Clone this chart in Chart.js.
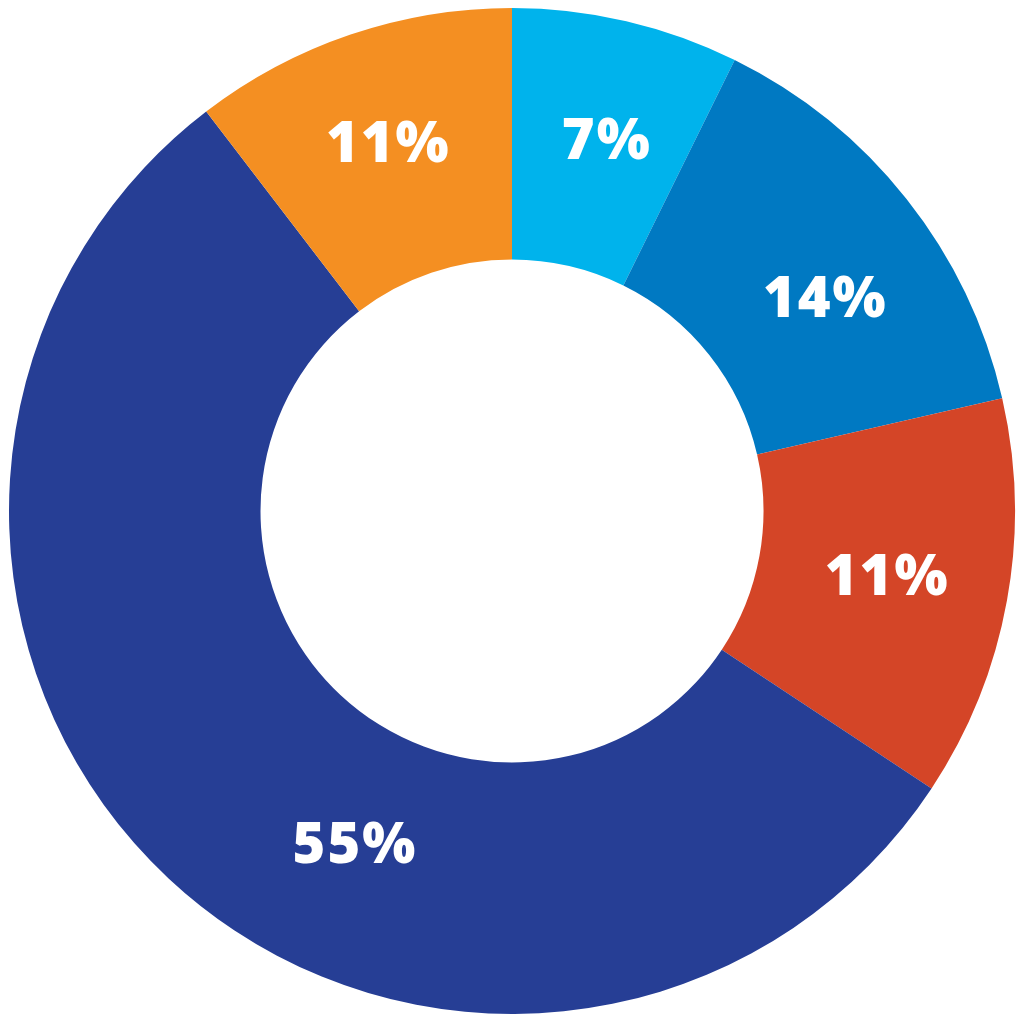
<!DOCTYPE html>
<html>
<head>
<meta charset="utf-8">
<title>Doughnut</title>
<script src="https://cdn.jsdelivr.net/npm/chart.js@4/dist/chart.umd.min.js"></script>
<style>
  html, body { margin: 0; padding: 0; background: #ffffff; }
  #wrap { width: 1024px; height: 1024px; }
</style>
</head>
<body>
<div id="wrap"><canvas id="donut" width="1024" height="1024"></canvas></div>
<script>
// Slice sizes (angles of the boundaries), clockwise from 12 o'clock
const segmentNames = ['Segment A', 'Segment B', 'Segment C', 'Segment D', 'Segment E'];
const segmentShares = [7.3, 14.1, 12.9, 55.3, 10.4];
// Printed labels as they appear on the chart
const segmentLabels = ['7%', '14%', '11%', '55%', '11%'];
const segmentColors = ['#00b3ec', '#0079c2', '#d44527', '#263e95', '#f48f22'];

// Draws the white percentage text inside each ring segment
const ringLabels = {
  id: 'ringLabels',
  afterDatasetsDraw(chart, args, opts) {
    const ctx = chart.ctx;
    const meta = chart.getDatasetMeta(0);
    ctx.save();
    ctx.fillStyle = opts.color;
    ctx.font = opts.font;
    if ('letterSpacing' in ctx) ctx.letterSpacing = opts.letterSpacing;
    ctx.textAlign = 'center';
    ctx.textBaseline = 'middle';
    meta.data.forEach((arc, i) => {
      const p = arc.getProps(['x', 'y', 'startAngle', 'endAngle', 'innerRadius', 'outerRadius'], true);
      const nudge = (opts.angleNudge[i] || 0) * Math.PI / 180;
      const mid = (p.startAngle + p.endAngle) / 2 + nudge;
      const r = (p.innerRadius + p.outerRadius) / 2 + (opts.radiusNudge[i] || 0);
      ctx.fillText(segmentLabels[i], p.x + Math.cos(mid) * r, p.y + Math.sin(mid) * r);
    });
    ctx.restore();
  }
};

new Chart(document.getElementById('donut'), {
  type: 'doughnut',
  data: {
    labels: segmentNames,
    datasets: [{
      data: segmentShares,
      backgroundColor: segmentColors,
      borderWidth: 0,
      hoverOffset: 0
    }]
  },
  options: {
    responsive: false,
    animation: false,
    cutout: '50%',
    layout: { padding: { top: 8, bottom: 10, left: 9, right: 9 } },
    events: [],
    plugins: {
      legend: { display: false },
      tooltip: { enabled: false },
      ringLabels: {
        color: '#ffffff',
        font: '800 56px "Open Sans", "Lato", sans-serif',
        letterSpacing: '2px',
        angleNudge: [1.3, 4.5, 0, -18, 0],
        radiusNudge: [3, 0, 4, -6, 8]
      }
    }
  },
  plugins: [ringLabels]
});
</script>
</body>
</html>
